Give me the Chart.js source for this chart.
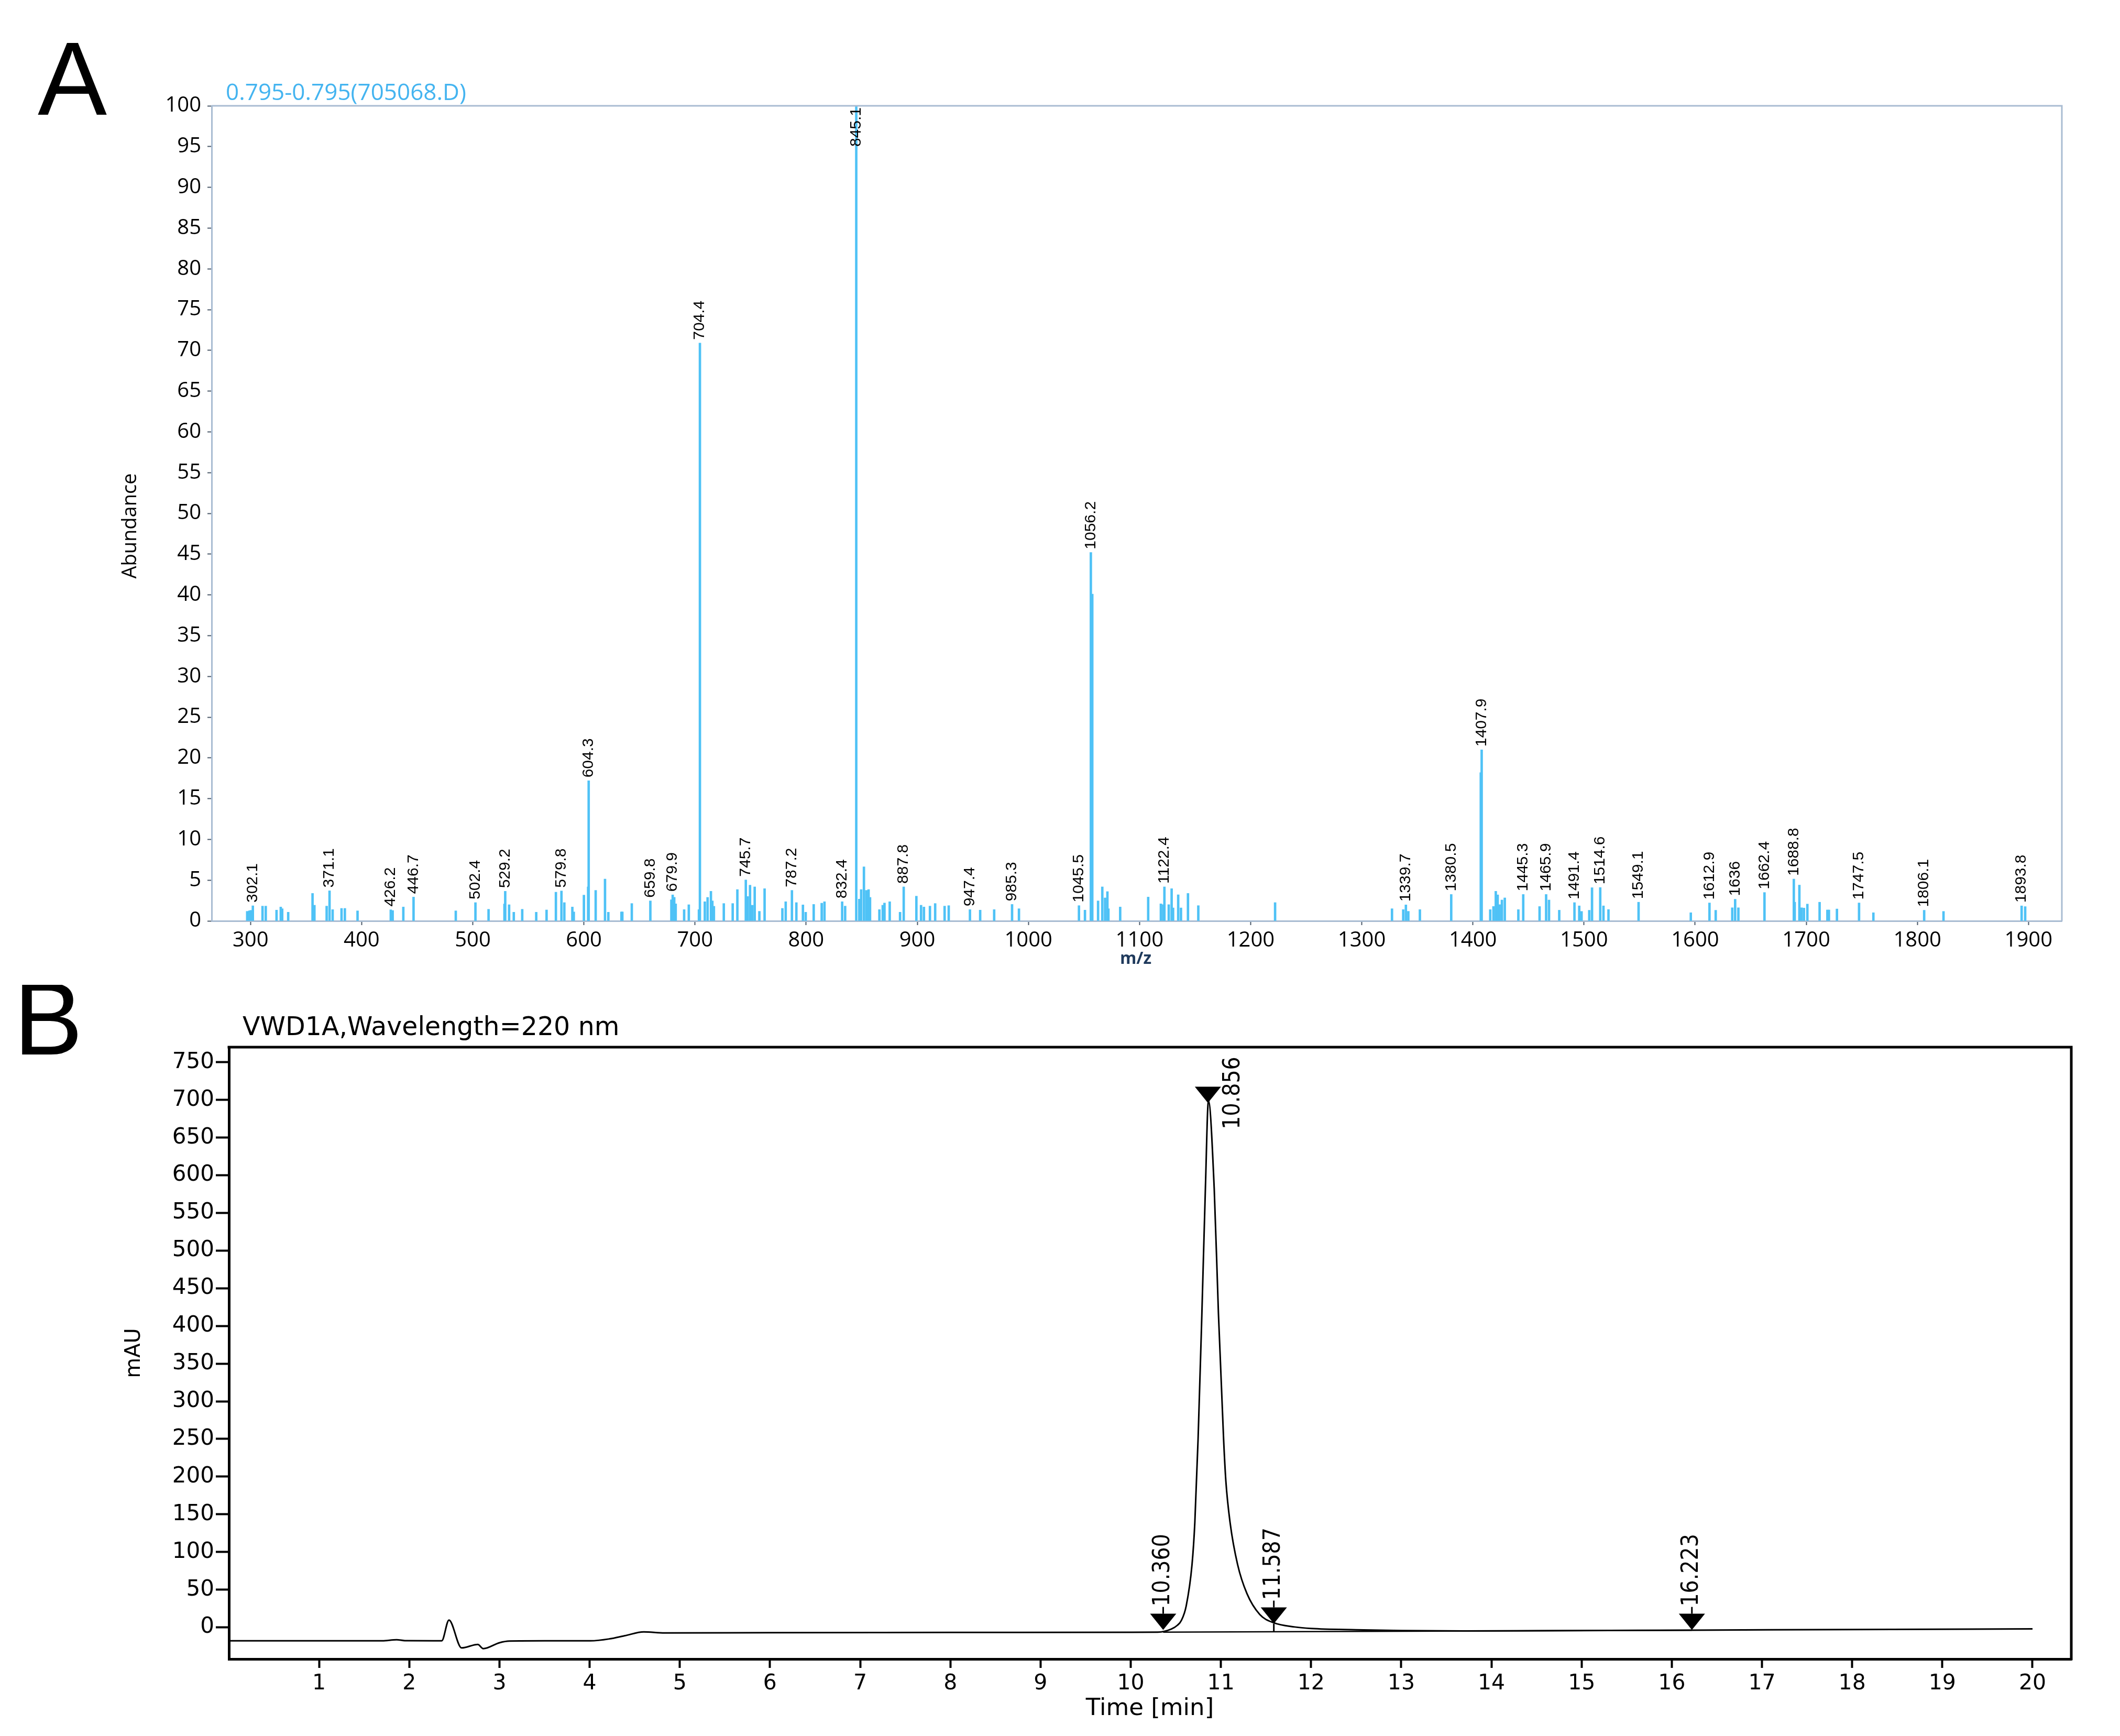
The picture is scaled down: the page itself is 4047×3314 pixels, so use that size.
<!DOCTYPE html>
<html lang="en">
<head>
<meta charset="UTF-8">
<title>Mass spectrum and HPLC chromatogram</title>
<script src="https://cdn.jsdelivr.net/npm/chart.js"></script>
<style>
    html, body { margin: 0; padding: 0; background: #fff; }
    body { width: 4047px; height: 3314px; position: relative; overflow: hidden; }
    .panel { position: absolute; left: 0; width: 4047px; }
    #panelA { top: 0; height: 1880px; }
    #panelB { top: 1880px; height: 1434px; }
</style>
</head>
<body>
<div class="panel" id="panelA"><canvas id="spectrum"></canvas></div>
<div class="panel" id="panelB"><canvas id="chromatogram"></canvas></div>

<script>
// ---- Panel A: mass spectrum ----
// labelled peaks (m/z text = value)
const peakMz = [302.1, 371.1, 426.2, 446.7, 502.4, 529.2, 579.8, 604.3, 659.8, 679.9,
    704.4, 745.7, 787.2, 832.4, 845.1, 887.8, 947.4, 985.3, 1045.5, 1056.2,
    1122.4, 1339.7, 1380.5, 1407.9, 1445.3, 1465.9, 1491.4, 1514.6, 1549.1, 1612.9,
    1636, 1662.4, 1688.8, 1747.5, 1806.1, 1893.8];
const peakAbund = [1.86, 3.7, 1.37, 2.93, 2.25, 3.64, 3.68, 17.2, 2.46, 3.2,
    70.9, 5.03, 3.75, 2.36, 100, 4.18, 1.39, 2.03, 1.88, 45.2,
    4.18, 1.97, 3.25, 21.0, 3.25, 3.25, 2.25, 4.1, 2.3, 2.21,
    2.66, 3.49, 5.14, 2.21, 1.31, 1.85];

// unlabelled ions
const minorMz = [297.0, 299.0, 300.3, 310.8, 313.7, 323.4, 327.2, 328.5, 333.9, 355.8,
    357.5, 368.5, 373.9, 381.9, 384.9, 396.3, 427.9, 437.5, 484.7, 514.2,
    528.5, 532.7, 536.9, 544.5, 557.1, 566.4, 574.8, 582.4, 589.6, 590.9,
    600.0, 603.8, 610.6, 619.0, 622.0, 633.8, 634.6, 643.1, 678.7, 681.3,
    682.6, 690.2, 694.4, 703.5, 708.8, 711.3, 714.3, 715.6, 717.0, 725.9,
    733.9, 738.1, 747.4, 749.5, 751.6, 753.7, 757.9, 762.6, 778.6, 781.6,
    791.2, 797.1, 799.6, 806.8, 814.0, 816.5, 835.1, 847.8, 849.5, 852.0,
    854.1, 856.2, 857.5, 865.9, 868.9, 870.5, 875.2, 884.5, 899.2, 903.4,
    906.0, 911.4, 916.1, 924.6, 928.3, 956.6, 969.2, 991.5, 1050.9, 1057.5,
    1062.7, 1066.5, 1069.0, 1071.1, 1072.0, 1082.6, 1107.8, 1119.2, 1121.3, 1126.3,
    1128.9, 1130.2, 1134.8, 1137.3, 1143.6, 1152.9, 1222.0, 1327.2, 1337.3, 1341.9,
    1352.3, 1407.1, 1415.6, 1418.5, 1420.6, 1422.3, 1424.0, 1426.1, 1428.7, 1440.9,
    1460.0, 1468.5, 1477.7, 1495.7, 1497.8, 1504.7, 1507.2, 1517.5, 1522.0, 1596.1,
    1618.5, 1633.4, 1638.9, 1689.6, 1693.8, 1695.8, 1697.9, 1701.0, 1712.0, 1719.0,
    1720.4, 1727.6, 1760.4, 1823.5, 1897.0];
const minorAbund = [1.18, 1.25, 1.3, 1.82, 1.82, 1.33, 1.71, 1.5, 1.07, 3.38,
    1.93, 1.82, 1.39, 1.54, 1.54, 1.24, 1.28, 1.71, 1.24, 1.43,
    2.08, 1.99, 1.07, 1.43, 1.07, 1.35, 3.53, 2.25, 1.71, 1.11,
    3.17, 4.18, 3.75, 5.14, 1.07, 1.11, 1.11, 2.14, 2.6, 2.9,
    2.1, 1.39, 1.99, 1.39, 2.36, 2.89, 3.64, 2.46, 1.8, 2.14,
    2.14, 3.85, 3.0, 4.39, 1.93, 4.18, 1.18, 3.96, 1.54, 2.36,
    2.25, 1.97, 1.07, 2.03, 2.18, 2.36, 1.82, 2.68, 3.85, 6.64,
    3.75, 3.85, 2.89, 1.39, 1.93, 2.2, 2.36, 1.07, 3.04, 1.93,
    1.71, 1.82, 2.14, 1.82, 1.88, 1.33, 1.39, 1.5, 1.33, 40.1,
    2.46, 4.18, 2.83, 3.6, 1.5, 1.71, 2.93, 2.1, 2.0, 2.0,
    3.96, 1.6, 3.21, 1.6, 3.38, 1.88, 2.25, 1.5, 1.39, 1.18,
    1.39, 18.2, 1.39, 1.78, 3.64, 3.2, 2.0, 2.57, 2.83, 1.39,
    1.77, 2.57, 1.32, 1.85, 1.17, 1.31, 4.08, 1.85, 1.4, 1.01,
    1.31, 1.62, 1.62, 2.3, 4.4, 1.62, 1.58, 2.07, 2.3, 1.35,
    1.35, 1.47, 1.01, 1.17, 1.76];

const mzTicks = [300, 400, 500, 600, 700, 800, 900, 1000, 1100, 1200, 1300, 1400, 1500, 1600, 1700, 1800, 1900];
const abundTicks = [0, 5, 10, 15, 20, 25, 30, 35, 40, 45, 50, 55, 60, 65, 70, 75, 80, 85, 90, 95, 100];

// ---- Panel B: chromatogram ----
const timeMin = [0, 1.0, 1.7, 1.86, 1.95, 2.36, 2.44, 2.58, 2.76, 2.82,
    3.0, 3.11, 3.5, 4.01, 4.22, 4.39, 4.6, 4.83, 6.0, 8.0,
    10.0, 10.3, 10.45, 10.52, 10.56, 10.615, 10.68, 10.711, 10.747, 10.789,
    10.828, 10.862, 10.926, 10.973, 11.03, 11.055, 11.102, 11.185, 11.289, 11.431,
    11.587, 11.82, 12.0, 12.5, 13.0, 13.7, 15.0, 16.223, 18.0, 20.0];
const signalMAU = [-17.8, -17.8, -17.8, -16.4, -17.6, -17.8, 9.7, -27.3, -22.7, -28.2,
    -20.4, -18.2, -17.9, -17.9, -15.3, -11.1, -6.0, -7.4, -7.0, -6.8,
    -6.5, -6.4, -2.3, 3.0, 8.8, 28.2, 83.5, 139, 249.7, 415.8,
    582, 699, 582, 415.8, 249.7, 194.3, 139, 83.5, 44.8, 17.1,
    6.0, 0.5, -1.5, -3.2, -4.2, -4.8, -4.2, -3.7, -2.9, -2.1];

// integration baseline
const baseTime = [10.36, 16.223];
const baseMAU = [-6.3, -3.7];

// peak / event markers
const markerTimes = [10.360, 10.856, 11.587, 16.223];
const markerTipMAU = [-3.5, 696, 4.9, -3.5];
const markerDropMAU = [null, null, -5.8, null];
const markerLabelSide = ['top', 'right', 'top', 'top'];

const timeTicks = [1, 2, 3, 4, 5, 6, 7, 8, 9, 10, 11, 12, 13, 14, 15, 16, 17, 18, 19, 20];
const mauTicks = [0, 50, 100, 150, 200, 250, 300, 350, 400, 450, 500, 550, 600, 650, 700, 750];

const SANS_A = '"Open Sans", "Noto Sans", sans-serif';
const ARIAL = '"Liberation Sans", Arial, sans-serif';
const WIDE = '"DejaVu Sans", Verdana, sans-serif';
const NARROW = '"Liberation Sans Narrow", "DejaVu Sans Condensed", "Liberation Sans", sans-serif';

function rotatedText(ctx, text, x, y, align) {
    ctx.save();
    ctx.translate(x, y);
    ctx.rotate(-Math.PI / 2);
    ctx.textAlign = align;
    ctx.textBaseline = 'middle';
    ctx.fillText(text, 0, 0);
    ctx.restore();
}

const spectrumDecor = {
    id: 'spectrumDecor',
    afterDraw(chart) {
        const ctx = chart.ctx;
        const a = chart.chartArea;
        ctx.save();
        // top and right frame
        ctx.strokeStyle = '#a9bcd2';
        ctx.lineWidth = 3;
        ctx.beginPath();
        ctx.moveTo(a.left, a.top);
        ctx.lineTo(a.right, a.top);
        ctx.lineTo(a.right, a.bottom);
        ctx.stroke();

        // peak labels
        ctx.fillStyle = '#000';
        ctx.font = '30px ' + ARIAL;
        const meta = chart.getDatasetMeta(0);
        meta.data.forEach((bar, i) => {
            const text = String(peakMz[i]);
            const w = ctx.measureText(text).width;
            let start = bar.y - 6;
            if (start - w < a.top + 3) start = a.top + 3 + w;
            rotatedText(ctx, text, bar.x, start, 'left');
        });

        // panel letter
        ctx.font = '198px ' + ARIAL;
        ctx.textAlign = 'left';
        ctx.textBaseline = 'alphabetic';
        ctx.fillText('A', 72, 219);

        // trace title
        ctx.fillStyle = '#44b4f0';
        ctx.font = '44px ' + SANS_A;
        ctx.fillText('0.795-0.795(705068.D)', 431, 191);

        // axis titles
        ctx.fillStyle = '#000';
        ctx.font = '38px ' + SANS_A;
        rotatedText(ctx, 'Abundance', 249, 1004, 'center');
        ctx.fillStyle = '#1f3a5c';
        ctx.font = 'bold 32px ' + SANS_A;
        ctx.textAlign = 'center';
        ctx.textBaseline = 'middle';
        ctx.fillText('m/z', 2168, 1831);
        ctx.restore();
    }
};

const chromDecor = {
    id: 'chromDecor',
    afterDraw(chart) {
        const ctx = chart.ctx;
        const a = chart.chartArea;
        const xs = chart.scales.x;
        const ys = chart.scales.y;
        ctx.save();
        // top and right frame
        ctx.strokeStyle = '#000';
        ctx.lineWidth = 5;
        ctx.beginPath();
        ctx.moveTo(a.left - 2.5, a.top);
        ctx.lineTo(a.right, a.top);
        ctx.lineTo(a.right, a.bottom + 2.5);
        ctx.stroke();

        // markers
        ctx.fillStyle = '#000';
        ctx.lineWidth = 3;
        ctx.font = '44px ' + NARROW;
        markerTimes.forEach((t, i) => {
            const px = xs.getPixelForValue(t);
            const py = ys.getPixelForValue(markerTipMAU[i]);
            const triTop = py - 31;
            ctx.beginPath();
            ctx.moveTo(px - 25, triTop);
            ctx.lineTo(px + 25, triTop);
            ctx.lineTo(px, py);
            ctx.closePath();
            ctx.fill();
            if (markerDropMAU[i] !== null) {
                ctx.beginPath();
                ctx.moveTo(px, py);
                ctx.lineTo(px, ys.getPixelForValue(markerDropMAU[i]));
                ctx.stroke();
            }
            const text = markerTimes[i].toFixed(3);
            if (markerLabelSide[i] === 'top') {
                ctx.beginPath();
                ctx.moveTo(px, triTop);
                ctx.lineTo(px, triTop - 13);
                ctx.stroke();
                rotatedText(ctx, text, px, triTop - 14, 'left');
            } else {
                rotatedText(ctx, text, px + 49, triTop + 12, 'center');
            }
        });

        // panel letter
        ctx.font = '198px ' + ARIAL;
        ctx.textAlign = 'left';
        ctx.textBaseline = 'alphabetic';
        ctx.fillText('B', 26, 2013 - 1880);

        // titles
        ctx.font = '49px ' + WIDE;
        ctx.fillText('VWD1A,Wavelength=220 nm', 463, 1976 - 1880);
        ctx.font = '40px ' + WIDE;
        rotatedText(ctx, 'mAU', 257, 2583 - 1880, 'center');
        ctx.font = '45px ' + WIDE;
        ctx.textAlign = 'center';
        ctx.fillText('Time [min]', 2195, 3274 - 1880);
        ctx.restore();
    }
};

new Chart(document.getElementById('spectrum').getContext('2d'), {
    type: 'bar',
    data: {
        datasets: [{
            label: 'labelled',
            data: peakMz.map((m, i) => ({ x: m, y: peakAbund[i] })),
            backgroundColor: '#4fc2f6',
            barThickness: 4,
            grouped: false
        }, {
            label: 'ions',
            data: minorMz.map((m, i) => ({ x: m, y: minorAbund[i] })),
            backgroundColor: '#4fc2f6',
            barThickness: 4,
            grouped: false
        }]
    },
    options: {
        responsive: true,
        maintainAspectRatio: false,
        animation: false,
        layout: { padding: { left: 0, top: 202, right: 111, bottom: 0 } },
        plugins: { legend: { display: false }, tooltip: { enabled: false } },
        scales: {
            x: {
                type: 'linear',
                offset: false,
                min: 265,
                max: 1930,
                afterBuildTicks: s => { s.ticks = mzTicks.map(v => ({ value: v })); },
                afterFit: s => { s.height = 122; },
                grid: { drawOnChartArea: false, offset: false, tickLength: 8, tickWidth: 2, tickColor: '#4a5868' },
                border: { color: '#a9bcd2', width: 3 },
                ticks: {
                    color: '#000', padding: 6, maxRotation: 0, autoSkip: false,
                    font: { family: SANS_A, size: 40 },
                    callback: v => String(v)
                }
            },
            y: {
                min: 0,
                max: 100,
                afterBuildTicks: s => { s.ticks = abundTicks.map(v => ({ value: v })); },
                afterFit: s => { s.width = 404; },
                grid: { drawOnChartArea: false, tickLength: 8, tickWidth: 2, tickColor: '#4a5868' },
                border: { color: '#a9bcd2', width: 3 },
                ticks: { color: '#000', padding: 12, autoSkip: false, font: { family: SANS_A, size: 40 } }
            }
        }
    },
    plugins: [spectrumDecor]
});

new Chart(document.getElementById('chromatogram').getContext('2d'), {
    type: 'line',
    data: {
        datasets: [{
            label: 'VWD1A',
            data: timeMin.map((t, i) => ({ x: t, y: signalMAU[i] })),
            borderColor: '#000',
            borderWidth: 3,
            pointRadius: 0,
            cubicInterpolationMode: 'monotone',
            fill: false
        }, {
            label: 'baseline',
            data: baseTime.map((t, i) => ({ x: t, y: baseMAU[i] })),
            borderColor: '#000',
            borderWidth: 2.5,
            pointRadius: 0,
            fill: false
        }]
    },
    options: {
        responsive: true,
        maintainAspectRatio: false,
        animation: false,
        layout: { padding: { left: 0, top: 119, right: 93, bottom: 0 } },
        plugins: { legend: { display: false }, tooltip: { enabled: false } },
        scales: {
            x: {
                type: 'linear',
                min: 0,
                max: 20.43,
                afterBuildTicks: s => { s.ticks = timeTicks.map(v => ({ value: v })); },
                afterFit: s => { s.height = 147; },
                grid: { drawOnChartArea: false, tickLength: 17, tickWidth: 4, tickColor: '#000' },
                border: { color: '#000', width: 5 },
                ticks: { color: '#000', padding: 6, maxRotation: 0, autoSkip: false, font: { family: WIDE, size: 41 } }
            },
            y: {
                min: -42,
                max: 770,
                afterBuildTicks: s => { s.ticks = mauTicks.map(v => ({ value: v })); },
                afterFit: s => { s.width = 437; },
                grid: { drawOnChartArea: false, tickLength: 25, tickWidth: 4, tickColor: '#000' },
                border: { color: '#000', width: 5 },
                ticks: { color: '#000', padding: 3, autoSkip: false, font: { family: WIDE, size: 42 } }
            }
        }
    },
    plugins: [chromDecor]
});
</script>
</body>
</html>
